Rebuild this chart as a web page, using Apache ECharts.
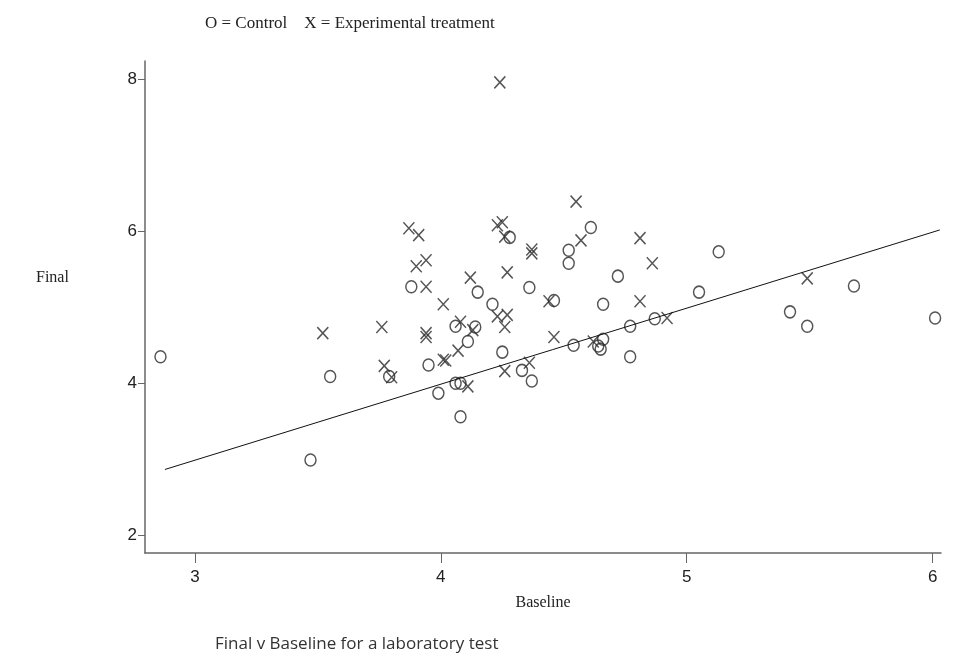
<!DOCTYPE html>
<html>
<head>
<meta charset="utf-8">
<script src="https://cdn.jsdelivr.net/npm/echarts@6/dist/echarts.min.js"></script>
<style>
  html, body { margin: 0; padding: 0; background: #fff; }
  #main { width: 961px; height: 662px; }
</style>
</head>
<body>
<div id="main"></div>
<script>
// control group (O)
var controlBaseline = [2.86, 3.47, 3.55, 3.79, 3.88, 3.95, 3.99, 4.06, 4.06, 4.08, 4.08, 4.11, 4.14, 4.15, 4.21, 4.25,
    4.28, 4.33, 4.36, 4.37, 4.46, 4.52, 4.52, 4.54, 4.61, 4.64, 4.65, 4.66, 4.66, 4.72, 4.77, 4.77, 4.87, 5.05,
    5.13, 5.42, 5.49, 5.68, 6.01];
var controlFinal = [4.35, 2.99, 4.09, 4.09, 5.27, 4.24, 3.87, 4.75, 4.00, 4.00, 3.56, 4.55, 4.74, 5.20, 5.04, 4.41,
    5.92, 4.17, 5.26, 4.03, 5.09, 5.58, 5.75, 4.50, 6.05, 4.49, 4.45, 4.58, 5.04, 5.41, 4.75, 4.35, 4.85, 5.20,
    5.73, 4.94, 4.75, 5.28, 4.86];

// experimental treatment (X)
var expBaseline = [4.24, 4.55, 3.87, 3.91, 3.90, 3.94, 3.94, 4.01, 4.23, 4.25, 4.26, 4.37, 4.37, 4.57, 4.81, 4.86,
    4.12, 4.27, 4.44, 3.52, 3.76, 3.77, 3.80, 3.94, 3.94, 4.01, 4.02, 4.07, 4.08, 4.11, 4.23, 4.27, 4.26, 4.26,
    4.36, 4.46, 4.62, 4.81, 4.92, 5.49, 4.13];
var expFinal = [7.96, 6.39, 6.04, 5.95, 5.54, 5.62, 5.27, 5.04, 6.08, 6.12, 5.93, 5.76, 5.71, 5.88, 5.91, 5.58,
    5.39, 5.46, 5.08, 4.66, 4.74, 4.23, 4.08, 4.66, 4.61, 4.31, 4.30, 4.43, 4.81, 3.96, 4.88, 4.90, 4.74, 4.16,
    4.27, 4.61, 4.55, 5.08, 4.86, 5.38, 4.70];

// fitted line end points
var fitBaseline = [2.878, 6.029];
var fitFinal = [2.866, 6.018];

var xTicks = [3, 4, 5, 6];
var yTicks = [2, 4, 6, 8];

var axisColor = '#666';
var markColor = '#2b2b2b';

function pairs(xs, ys) {
    var out = [];
    for (var i = 0; i < xs.length; i++) {
        out.push([xs[i], ys[i]]);
    }
    return out;
}

var myChart = echarts.init(document.getElementById('main'));

var option = {
    animation: false,
    backgroundColor: '#fff',
    textStyle: { fontFamily: 'Liberation Sans, Arial, sans-serif' },
    title: {
        text: 'O = Control    X = Experimental treatment',
        left: 200,
        top: 10,
        textStyle: {
            fontFamily: 'Liberation Serif, Times New Roman, serif',
            fontSize: 17,
            fontWeight: 'normal',
            color: '#222'
        }
    },
    graphic: [
        {
            type: 'text',
            left: 36,
            top: 270,
            style: {
                text: 'Final',
                font: '16px "Liberation Serif", serif',
                fill: '#222'
            }
        },
        {
            type: 'text',
            left: 215,
            top: 636,
            style: {
                text: 'Final v Baseline for a laboratory test',
                font: '17px "Open Sans", sans-serif',
                fill: '#333'
            }
        }
    ],
    grid: {
        left: 145,
        right: 20,
        top: 61,
        bottom: 109
    },
    xAxis: {
        type: 'value',
        min: 2.797,
        max: 6.034,
        name: 'Baseline',
        nameLocation: 'middle',
        nameGap: 42,
        nameTextStyle: {
            fontFamily: 'Liberation Serif, Times New Roman, serif',
            fontSize: 16,
            color: '#222'
        },
        axisLine: { onZero: false, lineStyle: { color: axisColor, width: 1.5 } },
        axisTick: { show: true, length: 10, customValues: xTicks, lineStyle: { color: axisColor, width: 1 } },
        axisLabel: { customValues: xTicks, margin: 16, fontSize: 17, color: '#222' },
        splitLine: { show: false }
    },
    yAxis: {
        type: 'value',
        min: 1.767,
        max: 8.241,
        axisLine: { show: true, onZero: false, lineStyle: { color: axisColor, width: 1.5 } },
        axisTick: { show: true, length: 7, customValues: yTicks, lineStyle: { color: axisColor, width: 1 } },
        axisLabel: { customValues: yTicks, margin: 8, fontSize: 17, color: '#222' },
        splitLine: { show: false }
    },
    series: [
        {
            name: 'Control',
            type: 'scatter',
            symbol: 'circle',
            symbolSize: [11, 12],
            itemStyle: { color: 'rgba(0,0,0,0)', borderColor: markColor, borderWidth: 1.5 },
            data: pairs(controlBaseline, controlFinal)
        },
        {
            name: 'Experimental treatment',
            type: 'scatter',
            symbol: 'path://M0,0L10,11M10,0L0,11',
            symbolSize: [11, 12],
            itemStyle: { color: 'rgba(0,0,0,0)', borderColor: markColor, borderWidth: 1.5 },
            data: pairs(expBaseline, expFinal)
        },
        {
            name: 'Fit',
            type: 'line',
            symbol: 'none',
            lineStyle: { color: '#111', width: 1 },
            data: pairs(fitBaseline, fitFinal)
        }
    ]
};

myChart.setOption(option);
</script>
</body>
</html>
